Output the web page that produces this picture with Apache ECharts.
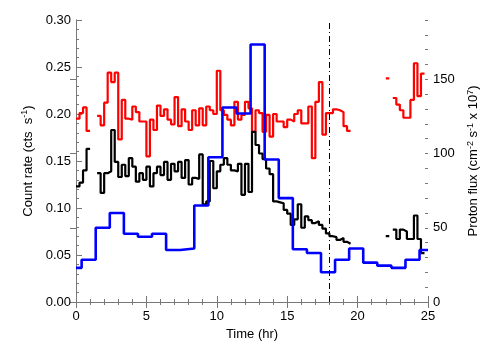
<!DOCTYPE html>
<html>
<head>
<meta charset="utf-8">
<script src="https://cdn.jsdelivr.net/npm/echarts@6/dist/echarts.min.js"></script>
<style>html,body{margin:0;padding:0;background:#fff}#c{width:504px;height:360px}</style>
</head>
<body>
<div id="c"></div>
<script>
// ---- data ----
const binHours = 0.25;            // width of the count-rate bins (hr)
const redRate = [
  0.195,0.201,0.207,0.182,null,null,0.198,0.188,0.212,0.244,
  0.234,0.244,0.173,0.215,0.195,0.194,0.208,0.202,0.192,0.192,
  0.155,0.194,0.183,0.209,0.198,0.205,0.194,0.189,0.218,0.187,
  0.205,0.192,0.183,0.204,0.188,0.206,0.188,0.208,0.204,0.200,
  0.246,0.204,0.199,0.194,0.188,0.213,0.194,0.199,0.213,0.206,
  0.181,0.204,0.201,0.181,0.199,0.176,0.200,0.192,0.192,0.186,
  0.194,0.192,0.200,0.204,0.190,0.190,0.208,0.153,0.213,0.234,
  0.178,0.201,0.201,0.205,0.204,0.202,0.187,0.182,null,null,
  null,null,null,null,null,null,null,null,0.238,null,
  0.217,0.210,0.204,0.196,0.196,0.215,0.254,0.219,0.243,null
];
const blackRate = [
  0.123,0.127,0.140,0.163,null,null,0.137,0.116,0.137,0.139,
  0.183,0.149,0.133,0.146,0.134,0.153,0.144,0.128,0.137,0.130,
  0.144,0.123,0.137,0.144,0.135,0.149,0.130,0.147,0.139,0.149,
  0.132,0.151,0.125,0.132,0.131,0.157,0.104,0.107,0.150,0.121,
  0.139,0.146,0.153,0.146,0.140,0.139,0.147,0.114,0.147,0.117,
  0.181,0.167,0.158,0.152,0.142,0.136,0.107,0.106,0.105,0.098,
  0.094,0.082,0.088,0.104,0.079,0.091,0.087,0.084,0.086,0.082,
  0.078,0.073,0.070,0.069,0.066,0.068,0.064,0.062,null,null,
  null,null,null,null,null,null,null,null,0.070,null,
  0.077,0.067,0.077,0.075,0.067,0.067,0.092,0.067,0.052,null
];
const protonBinStart = [0,0.4,1.4,2.4,3.4,4.4,5.4,6.4,7.4,8.4,9.4,10.4,11.4,12.4,13.4,14.4,15.4,16.4,17.4,18.4,19.4,20.4,21.4,22.4,23.4,24.4];
const protonBinEnd = 25;
const protonFlux = [23,28.5,50,60,46,44,46,35,36,65,97.5,131,127,173.5,96,70,35.5,33,20,28.5,36,26.5,24.5,23,28.5,35];
const xTicks = [0,5,10,15,20,25];
const leftTicks = [0.00,0.05,0.10,0.15,0.20,0.25,0.30];
const rightTicks = [0,50,100,150];
const markTime = 18;

// ---- build step outlines (data space) ----
function uniformSteps(vals, w){
  const pts = [];
  let open = false;
  for (let i = 0; i < vals.length; i++){
    const v = vals[i];
    if (v === null){ if (open){ pts.push([i*w, null]); open = false; } continue; }
    pts.push([i*w, v]); pts.push([(i+1)*w, v]); open = true;
  }
  return pts;
}
function edgeSteps(starts, end, vals){
  const pts = [];
  for (let i = 0; i < vals.length; i++){
    const e = i+1 < starts.length ? starts[i+1] : end;
    pts.push([starts[i], vals[i]]); pts.push([e, vals[i]]);
  }
  return pts;
}

const font = 'Liberation Sans, Arial, Helvetica, sans-serif';
const axisCol = '#777';
const chart = echarts.init(document.getElementById('c'), null, {renderer:'canvas'});
const rich = {
  sup: {fontSize: 9, fontFamily: font, color:'#000', verticalAlign:'top', lineHeight: 9},
  n: {fontSize: 13, fontFamily: font, color:'#000', lineHeight: 16}
};
chart.setOption({
  animation: false,
  backgroundColor: '#fff',
  grid: {left: 76, right: 76, top: 20, bottom: 58, containLabel: false},
  xAxis: [{
    type:'value', min:0, max:25, interval:5, position:'bottom',
    name:'Time (hr)', nameLocation:'middle', nameGap:24,
    nameTextStyle:{fontSize:13, fontFamily:font, color:'#000'},
    axisLine:{show:true, lineStyle:{color:axisCol, width:1}},
    axisTick:{show:true, inside:true, length:6, lineStyle:{color:axisCol}, customValues: xTicks},
    minorTick:{show:true, splitNumber:5, length:3, lineStyle:{color:axisCol}},
    axisLabel:{fontSize:13, fontFamily:font, color:'#000', margin:8, customValues: xTicks},
    splitLine:{show:false}
  },{
    type:'value', min:0, max:25, interval:5, position:'top',
    axisLine:{show:true, lineStyle:{color:axisCol, width:1}},
    axisTick:{show:true, inside:true, length:6, lineStyle:{color:axisCol}},
    minorTick:{show:true, splitNumber:5, length:3, lineStyle:{color:axisCol}},
    axisLabel:{show:false}, splitLine:{show:false}
  }],
  yAxis: [{
    type:'value', min:0, max:0.30, interval:0.05, position:'left',
    name:'{n|Count rate (cts  s}{sup|-1}{n|)}', nameLocation:'middle', nameGap:35,
    nameTextStyle:{rich: rich},
    axisLine:{show:true, lineStyle:{color:axisCol, width:1}},
    axisTick:{show:true, inside:true, length:6, lineStyle:{color:axisCol}},
    minorTick:{show:true, splitNumber:5, length:3, lineStyle:{color:axisCol}},
    axisLabel:{fontSize:13, fontFamily:font, color:'#000', margin:5, formatter: v => v.toFixed(2), customValues: leftTicks},
    splitLine:{show:false}
  },{
    type:'value', min:0, max:190, interval:50, position:'right',
    name:'{n|Proton flux (cm}{sup|-2}{n| s}{sup|-1}{n| x 10}{sup|7}{n|)}', nameLocation:'middle', nameGap:22,
    nameTextStyle:{rich: rich},
    axisLine:{show:true, lineStyle:{color:axisCol, width:1}},
    axisTick:{show:true, inside:true, length:6, lineStyle:{color:axisCol}, customValues: rightTicks},
    axisLabel:{fontSize:13, fontFamily:font, color:'#000', margin:5, customValues: rightTicks},
    splitLine:{show:false}
  },{
    type:'value', min:0, max:190, interval:10, position:'right',
    axisLine:{show:false},
    axisTick:{show:true, inside:true, length:3, lineStyle:{color:axisCol}},
    axisLabel:{show:false}, splitLine:{show:false}
  }],
  series: [{
    type:'line', name:'red', xAxisIndex:0, yAxisIndex:0, data: uniformSteps(redRate, binHours),
    showSymbol:false, connectNulls:false, lineStyle:{color:'#ff0000', width:2.2}, z:2,
    markLine:{silent:true, symbol:['none','none'], label:{show:false},
      lineStyle:{color:'#000', width:1, type:[6,3,1,3]}, data:[{xAxis: markTime}]}
  },{
    type:'line', name:'black', xAxisIndex:0, yAxisIndex:0, data: uniformSteps(blackRate, binHours),
    showSymbol:false, connectNulls:false, lineStyle:{color:'#000000', width:2.2}, z:3
  },{
    type:'line', name:'blue', xAxisIndex:0, yAxisIndex:1, data: edgeSteps(protonBinStart, protonBinEnd, protonFlux),
    showSymbol:false, lineStyle:{color:'#0000ff', width:2.6}, z:4
  }]
});
</script>
</body>
</html>
